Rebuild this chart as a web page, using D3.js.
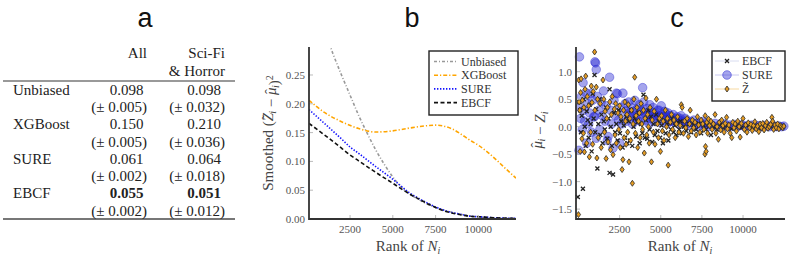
<!DOCTYPE html>
<html>
<head>
<meta charset="utf-8">
<script src="https://cdn.jsdelivr.net/npm/d3@7"></script>
<style>
  body { margin: 0; background: #fff; }
</style>
</head>
<body>
<div class="canvas"></div>
<script>
// table (panel a)
const methods = ["Unbiased", "XGBoost", "SURE", "EBCF"];
const allMean = ["0.098", "0.150", "0.061", "0.055"];
const allSe = ["0.005", "0.005", "0.002", "0.002"];
const sciMean = ["0.098", "0.210", "0.064", "0.051"];
const sciSe = ["0.032", "0.036", "0.018", "0.012"];

// smoothed error curves (panel b): [rank, value]
const unbiasedCurve = [[100, 0.41], [500, 0.37], [1000, 0.328], [1500, 0.287], [2000, 0.25], [2500, 0.215], [3000, 0.18], [3500, 0.149], [4000, 0.12], [4500, 0.095], [5000, 0.073], [5500, 0.055], [6000, 0.043], [6500, 0.034], [7000, 0.026], [7500, 0.02], [8000, 0.015], [8500, 0.011], [9000, 0.008], [9500, 0.005], [10000, 0.0035], [11000, 0.0015], [12200, 0.0005]];
const xgboostCurve = [[100, 0.206], [1000, 0.185], [2000, 0.169], [3000, 0.157], [4000, 0.151], [5000, 0.153], [6000, 0.158], [7000, 0.162], [7500, 0.163], [8000, 0.161], [8500, 0.156], [9000, 0.147], [9500, 0.137], [10000, 0.128], [10500, 0.117], [11000, 0.104], [11500, 0.09], [12200, 0.071]];
const sureCurve = [[100, 0.19], [1000, 0.166], [2000, 0.139], [2500, 0.125], [3000, 0.114], [4000, 0.091], [5000, 0.069], [6000, 0.045], [6500, 0.036], [7000, 0.028], [7500, 0.021], [8000, 0.015], [8500, 0.011], [9000, 0.008], [9500, 0.005], [10000, 0.004], [11000, 0.002], [12200, 0.001]];
const ebcfCurve = [[100, 0.166], [1000, 0.146], [2000, 0.123], [2500, 0.111], [3000, 0.101], [4000, 0.081], [5000, 0.062], [6000, 0.043], [6500, 0.035], [7000, 0.027], [7500, 0.02], [8000, 0.014], [8500, 0.01], [9000, 0.007], [9500, 0.005], [10000, 0.004], [11000, 0.002], [12200, 0.001]];
const bYTicks = [0, 0.05, 0.1, 0.15, 0.2, 0.25];
const rankTicks = [2500, 5000, 7500, 10000];

// residual scatter (panel c): [rank, value]
const ebcfPoints = [[-40, -1.28], [60, 0.45], [100, 0.3], [150, -0.1], [200, 0.2], [270, -1.13], [320, 0.5], [380, 0.0], [440, -0.35], [500, 0.28], [560, 0.12], [620, -0.2], [680, 0.4], [740, 0.05], [800, -0.45], [860, 0.6], [920, 0.15], [976, 0.94], [1020, -0.1], [1080, 0.32], [1150, -0.76], [1210, 0.05], [1280, 0.5], [1330, -0.15], [1400, 0.22], [1470, -0.3], [1540, 0.1], [1600, -0.05], [1680, 0.35], [1750, -0.22], [1820, 0.15], [1890, 0.68], [1890, -0.84], [1960, 0.0], [2030, -0.35], [2100, -0.87], [2160, 0.25], [2230, -0.1], [2300, 0.05], [2380, -0.25], [2450, 0.3], [2520, -0.12], [2600, 0.1], [2680, -0.38], [2750, 0.02], [2820, -0.2], [2900, 0.18], [2970, -0.3], [3050, 0.1], [3120, -0.25], [3200, 0.3], [3270, -0.35], [3350, 0.0], [3420, 0.15], [3500, -0.18], [3580, 0.08], [3650, 0.25], [3720, -0.3], [3800, 0.05], [3880, -0.12], [3950, 0.58], [4030, -0.2], [4100, 0.12], [4180, -0.22], [4250, 0.3], [4320, -0.05], [4400, 0.18], [4480, -0.28], [4560, 0.05], [4640, -0.15], [4720, 0.22], [4800, -0.08], [4880, 0.1], [4960, -0.2], [5050, 0.02], [5130, -0.3], [5210, 0.12], [5300, -0.12], [5380, 0.05], [5460, -0.25], [5540, 0.08], [5620, -0.05], [5700, 0.15], [5780, -0.1], [5860, 0.02], [5950, -0.15], [6030, 0.08], [6120, -0.05], [6200, 0.1], [6300, -0.12], [6400, 0.0], [6550, -0.08], [6700, 0.05], [6850, -0.1], [7000, 0.03], [7150, -0.05], [7300, 0.06], [7450, -0.12], [7600, 0.02], [7750, -0.05], [7900, 0.04], [8050, -0.15], [8200, 0.0], [8400, -0.05], [8600, 0.03], [8800, -0.02], [9000, 0.02], [9300, -0.04], [9600, 0.01], [9900, -0.02], [10200, 0.02], [10500, -0.01], [10800, 0.01], [11100, -0.02], [11400, 0.01], [11700, 0.0], [12000, -0.01], [12300, 0.0]];
const surePoints = [[30, -0.43], [61, 1.27], [90, 0.35], [130, 0.15], [180, 0.55], [230, -0.05], [280, 0.8], [330, 0.3], [380, 0.1], [450, 0.62], [500, -0.3], [560, 0.42], [620, 0.05], [680, 0.25], [740, 0.6], [800, -0.1], [860, 0.48], [920, 0.18], [976, 0.18], [1000, 1.18], [1037, 1.16], [1080, 1.04], [1080, -0.21], [1150, 0.55], [1220, 0.3], [1300, -0.05], [1380, 0.45], [1450, 0.2], [1520, 0.65], [1600, 0.1], [1680, 0.38], [1750, -0.25], [1800, -0.18], [1890, 0.9], [1950, 0.3], [2020, 0.05], [2100, -0.39], [2160, 0.48], [2230, 0.2], [2300, 0.61], [2370, 0.6], [2440, 0.12], [2500, -0.3], [2560, 0.35], [2620, 0.05], [2700, 0.61], [2760, 0.25], [2840, 0.42], [2920, 0.1], [2980, 0.3], [3050, 0.45], [3100, 0.25], [3120, 0.2], [3200, 0.35], [3280, 0.05], [3300, 0.18], [3350, 0.28], [3420, 0.48], [3480, 0.15], [3550, 0.32], [3600, 0.12], [3620, 0.22], [3700, 0.4], [3750, 0.28], [3770, 0.1], [3840, 0.3], [3900, 0.71], [3960, 0.45], [4020, 0.25], [4080, 0.12], [4100, 0.22], [4150, 0.33], [4220, 0.2], [4280, 0.05], [4300, 0.15], [4340, 0.4], [4400, 0.28], [4470, 0.18], [4500, 0.25], [4540, 0.35], [4600, 0.1], [4680, 0.25], [4700, 0.2], [4750, 0.15], [4820, 0.3], [4890, 0.2], [4900, 0.3], [4960, 0.08], [5030, 0.38], [5100, 0.22], [5150, 0.18], [5170, 0.12], [5240, 0.28], [5310, 0.18], [5350, 0.22], [5380, 0.05], [5450, 0.25], [5520, 0.15], [5550, 0.1], [5600, 0.2], [5680, 0.1], [5750, 0.15], [5760, 0.22], [5840, 0.08], [5920, 0.15], [5950, 0.1], [6000, 0.18], [6080, 0.05], [6160, 0.12], [6200, 0.15], [6240, 0.2], [6320, 0.08], [6400, 0.1], [6450, 0.05], [6500, 0.15], [6600, 0.05], [6700, 0.1], [6800, 0.02], [6900, 0.08], [7000, 0.12], [7100, 0.03], [7200, 0.06], [7300, 0.0], [7400, 0.08], [7500, 0.04], [7600, 0.1], [7700, 0.02], [7800, 0.06], [7900, 0.0], [8000, 0.05], [8150, 0.02], [8300, 0.06], [8450, 0.0], [8600, 0.04], [8750, 0.02], [8900, 0.05], [9050, 0.0], [9200, 0.03], [9350, 0.01], [9500, 0.04], [9650, 0.0], [9800, 0.02], [9950, 0.03], [10100, 0.0], [10250, 0.02], [10400, 0.01], [10550, 0.03], [10700, 0.0], [10850, 0.02], [11000, 0.01], [11150, 0.0], [11300, 0.02], [11450, 0.01], [11600, 0.0], [11750, 0.02], [11900, 0.01], [12050, 0.0], [12200, 0.01], [12350, 0.0], [12480, 0.01]];
const zPoints = [[0, -1.6], [20, 0.85], [40, 0.45], [80, 0.3], [100, -0.45], [130, 0.62], [160, 0.87], [210, -0.22], [240, 0.48], [300, -0.12], [330, 0.35], [360, -0.46], [400, 0.68], [440, 0.92], [500, -0.3], [540, 0.55], [620, 0.38], [660, -0.55], [740, -0.1], [780, 0.74], [820, 0.44], [860, -0.32], [900, 0.64], [980, 1.36], [1000, 0.3], [1080, 0.72], [1120, -0.57], [1160, 0.5], [1200, -0.2], [1320, 0.42], [1380, -0.38], [1490, 0.85], [1540, 0.5], [1580, -0.1], [1620, 0.28], [1680, -0.58], [1720, 0.15], [1760, 0.35], [1800, -0.28], [1900, 0.45], [1950, -0.42], [2000, 0.22], [2050, 0.55], [2100, -0.51], [2180, 0.32], [2220, -0.15], [2260, 0.42], [2300, -0.3], [2400, 0.25], [2450, -0.05], [2500, 0.38], [2540, -0.38], [2580, 0.18], [2650, -0.78], [2700, -0.6], [2740, 0.3], [2780, -0.2], [2820, 0.45], [2860, 0.1], [2900, -0.32], [2950, 0.22], [2990, -0.1], [3030, 0.4], [3070, -0.64], [3120, 0.15], [3170, -0.25], [3220, 0.3], [3276, -1.03], [3320, 0.05], [3370, 0.5], [3416, 0.9], [3460, -0.12], [3500, 0.2], [3550, 0.35], [3600, -0.38], [3650, 0.1], [3700, 0.25], [3750, -0.2], [3800, 0.42], [3850, 0.05], [3900, -0.05], [3950, 0.3], [4000, -0.48], [4050, 0.15], [4100, 0.52], [4150, -0.15], [4200, 0.22], [4250, 0.0], [4300, -0.3], [4350, 0.35], [4435, -0.64], [4480, 0.12], [4550, -0.1], [4600, 0.28], [4650, -0.32], [4740, 0.5], [4800, 0.05], [4860, -0.2], [4920, 0.15], [4980, -0.45], [5050, 0.2], [5100, -0.08], [5150, 0.1], [5200, -0.25], [5280, 0.3], [5350, 0.0], [5400, 0.15], [5453, -0.7], [5500, -0.15], [5580, 0.08], [5650, 0.22], [5720, -0.05], [5800, 0.12], [5880, -0.2], [5950, 0.05], [6020, 0.18], [6100, -0.1], [6180, 0.02], [6250, 0.4], [6300, 0.35], [6380, -0.12], [6450, 0.1], [6520, -0.02], [6600, 0.15], [6680, -0.18], [6750, 0.05], [6790, 0.3], [6850, -0.08], [6920, 0.12], [7000, -0.02], [7080, 0.08], [7150, -0.15], [7230, 0.18], [7300, 0.03], [7380, -0.1], [7450, 0.12], [7550, 0.05], [7620, -0.05], [7686, -0.5], [7700, 0.2], [7720, -0.36], [7760, -0.45], [7800, 0.08], [7850, -0.12], [7900, 0.14], [7960, 0.02], [8050, 0.1], [8120, -0.05], [8200, 0.05], [8300, 0.22], [8350, -0.12], [8420, 0.0], [8503, -0.23], [8560, 0.08], [8640, -0.06], [8700, 0.12], [8780, 0.02], [8850, -0.1], [8920, 0.06], [9000, 0.17], [9060, -0.04], [9140, 0.03], [9220, -0.12], [9316, -0.2], [9380, 0.08], [9450, -0.02], [9520, 0.05], [9600, -0.08], [9680, 0.1], [9760, 0.0], [9825, -0.19], [9900, 0.06], [10000, 0.15], [10080, -0.05], [10160, 0.03], [10240, -0.1], [10320, 0.07], [10400, -0.02], [10480, 0.04], [10560, -0.07], [10640, 0.02], [10720, 0.09], [10800, -0.04], [10880, 0.01], [10960, -0.09], [11040, 0.05], [11120, -0.02], [11200, 0.06], [11280, -0.06], [11360, 0.02], [11440, 0.08], [11520, -0.03], [11600, 0.0], [11680, 0.04], [11755, 0.17], [11800, 0.1], [11860, -0.05], [11940, 0.03], [12020, -0.02], [12100, 0.05], [12180, -0.04], [12260, 0.02], [12340, 0.0], [12420, -0.02], [12480, 0.01]];
const cYTicks = [-1.5, -1.0, -0.5, 0.0, 0.5, 1.0];

const w = 789;
const h = 259;
const serif = "'Liberation Serif', 'DejaVu Serif', serif";
const svg = d3.select(".canvas").append("svg").attr("width", w).attr("height", h)
  .attr("font-family", serif);

// panel letters
[["a", 145], ["b", 412], ["c", 677]].forEach(([t, x]) => {
  svg.append("text").attr("x", x).attr("y", 27).attr("text-anchor", "middle")
    .attr("font-family", "'Liberation Sans', Arial, sans-serif").attr("font-size", 27).attr("fill", "#111").text(t);
});

// ---------- panel a: table ----------
const tbl = svg.append("g").attr("font-size", 15).attr("fill", "#222");
tbl.append("text").attr("x", 147).attr("y", 58).attr("text-anchor", "end").text("All");
tbl.append("text").attr("x", 225).attr("y", 58).attr("text-anchor", "end").text("Sci-Fi");
tbl.append("text").attr("x", 225).attr("y", 76).attr("text-anchor", "end").text("& Horror");
tbl.append("line").attr("x1", 3).attr("x2", 235).attr("y1", 81).attr("y2", 81).attr("stroke", "#777").attr("stroke-width", 1.5);
tbl.append("line").attr("x1", 3).attr("x2", 235).attr("y1", 219).attr("y2", 219).attr("stroke", "#777").attr("stroke-width", 2);

const rowY = d3.scaleLinear().domain([0, 3]).range([94.5, 198]);
methods.forEach((m, i) => {
  const bold = m === "EBCF" ? "bold" : "normal";
  tbl.append("text").attr("x", 13).attr("y", rowY(i)).text(m);
  tbl.append("text").attr("x", 143.5).attr("y", rowY(i)).attr("text-anchor", "end").attr("font-weight", bold).text(allMean[i]);
  tbl.append("text").attr("x", 221).attr("y", rowY(i)).attr("text-anchor", "end").attr("font-weight", bold).text(sciMean[i]);
  tbl.append("text").attr("x", 147).attr("y", rowY(i) + 17.5).attr("text-anchor", "end").text(`(\u00b1 ${allSe[i]})`);
  tbl.append("text").attr("x", 225).attr("y", rowY(i) + 17.5).attr("text-anchor", "end").text(`(\u00b1 ${sciSe[i]})`);
});

// helper to draw axes the same way in b and c
function drawAxes(g, x, y, xTicks, yTicks, yFmt) {
  const [x0, x1] = x.range();
  const [y0, y1] = y.range();
  // ticks point inward, light grey
  g.selectAll(".xt").data(xTicks).enter().append("line")
    .attr("x1", (d) => x(d)).attr("x2", (d) => x(d)).attr("y1", y0).attr("y2", y0 - 4)
    .attr("stroke", "#bbb").attr("stroke-width", 1);
  g.selectAll(".yt").data(yTicks).enter().append("line")
    .attr("x1", x0).attr("x2", x0 + 4).attr("y1", (d) => y(d)).attr("y2", (d) => y(d))
    .attr("stroke", "#bbb").attr("stroke-width", 1);
  g.selectAll(".xl").data(xTicks).enter().append("text")
    .attr("x", (d) => x(d)).attr("y", y0 + 14).attr("text-anchor", "middle")
    .attr("font-size", 11).attr("fill", "#555").text((d) => d);
  g.selectAll(".yl").data(yTicks).enter().append("text")
    .attr("x", x0 - 4).attr("y", (d) => y(d) + 4).attr("text-anchor", "end")
    .attr("font-size", 11).attr("fill", "#555").text(yFmt);
  // spines
  g.append("path").attr("d", `M${x0},${y1}V${y0}H${x1}`).attr("fill", "none").attr("stroke", "#333").attr("stroke-width", 1.8);
}

function rankLabel(g, cx) {
  const t = g.append("text").attr("x", cx).attr("y", 251).attr("text-anchor", "middle").attr("font-size", 15).attr("fill", "#444");
  t.append("tspan").text("Rank of ");
  t.append("tspan").attr("font-style", "italic").text("N");
  t.append("tspan").attr("font-style", "italic").attr("font-size", 10).attr("dy", 3).text("i");
}

// math symbol with an accent laid over it, then a subscript i
function accented(t, base, accent, back, after) {
  t.append("tspan").attr("font-style", "italic").text(base);
  t.append("tspan").attr("dx", -back).attr("dy", -1).text(accent);
  t.append("tspan").attr("font-style", "italic").attr("font-size", 10).attr("dx", after).attr("dy", 4).text("i");
  t.append("tspan").attr("dy", -3).text("");
}

// ---------- panel b: smoothed squared error ----------
const bx = d3.scaleLinear().domain([100, 12200]).range([309, 516]);
const by = d3.scaleLinear().domain([0, 0.2986]).range([219, 47]);
const gb = svg.append("g");
gb.append("clipPath").attr("id", "clipb").append("rect").attr("x", 309).attr("y", 47).attr("width", 207).attr("height", 172);

const line = d3.line().x((d) => bx(d[0])).y((d) => by(d[1])).curve(d3.curveMonotoneX);
const curves = [
  { name: "Unbiased", data: unbiasedCurve, color: "#999", dash: "3,2,1,2" },
  { name: "XGBoost", data: xgboostCurve, color: "#ffa500", dash: "4,2,1.2,2" },
  { name: "SURE", data: sureCurve, color: "#1414ff", dash: "1.4,1.6" },
  { name: "EBCF", data: ebcfCurve, color: "#111", dash: "4,2.5" },
];
gb.append("g").attr("clip-path", "url(#clipb)")
  .selectAll("path").data(curves).enter().append("path")
  .attr("d", (d) => line(d.data)).attr("fill", "none")
  .attr("stroke", (d) => d.color).attr("stroke-width", 1.6).attr("stroke-dasharray", (d) => d.dash);

drawAxes(gb, bx, by, rankTicks, bYTicks, (d) => d.toFixed(2));
rankLabel(gb, 408);

const byl = gb.append("text").attr("transform", "translate(273,133) rotate(-90)").attr("text-anchor", "middle").attr("font-size", 15).attr("fill", "#444");
byl.append("tspan").text("Smoothed (");
accented(byl, "Z", "\u02dc", 7, 1);
byl.append("tspan").text(" \u2212 ");
accented(byl, "\u03bc", "\u02c6", 6.5, 1);
byl.append("tspan").text(")");
byl.append("tspan").attr("font-size", 10).attr("dy", -6).text("2");

// legend b
const lb = gb.append("g");
lb.append("rect").attr("x", 429).attr("y", 51).attr("width", 89).attr("height", 64).attr("fill", "#fff").attr("stroke", "#222").attr("stroke-width", 1.4);
curves.forEach((c, i) => {
  const yy = 61.5 + i * 13.7;
  lb.append("line").attr("x1", 434).attr("x2", 457).attr("y1", yy).attr("y2", yy)
    .attr("stroke", c.color).attr("stroke-width", 1.6).attr("stroke-dasharray", c.dash);
  lb.append("text").attr("x", 461).attr("y", yy + 4).attr("font-size", 12).attr("fill", "#333").text(c.name);
});

// ---------- panel c: residual scatter ----------
const cx = d3.scaleLinear().domain([-150, 12550]).range([576, 785]);
const cy = d3.scaleLinear().domain([-1.68, 1.45]).range([219, 47]);
const gc = svg.append("g");

const xMark = (g) => g.append("path").attr("d", "M-2,-2L2,2M-2,2L2,-2").attr("stroke", "#222").attr("stroke-width", 1.3);
const diamond = "M0,-3L2.1,0L0,3L-2.1,0Z";
const sureFill = "rgba(40,40,210,0.42)";
const sureStroke = "rgba(40,40,210,0.5)";
const zFill = "#e39a22";

gc.selectAll(".sure").data(surePoints).enter().append("circle")
  .attr("cx", (d) => cx(d[0])).attr("cy", (d) => cy(d[1])).attr("r", 4.3)
  .attr("fill", sureFill).attr("stroke", sureStroke).attr("stroke-width", 0.8);
gc.selectAll(".ebcf").data(ebcfPoints).enter().append("g")
  .attr("transform", (d) => `translate(${cx(d[0])},${cy(d[1])})`).call(xMark);
gc.selectAll(".z").data(zPoints).enter().append("path")
  .attr("transform", (d) => `translate(${cx(d[0])},${cy(d[1])})`).attr("d", diamond)
  .attr("fill", zFill).attr("stroke", "#2a2a2a").attr("stroke-width", 0.8);

drawAxes(gc, cx, cy, rankTicks, cYTicks, (d) => d3.format(".1f")(d).replace("-", "\u2212"));
rankLabel(gc, 680);

const cyl = gc.append("text").attr("transform", "translate(542,130) rotate(-90)").attr("text-anchor", "middle").attr("font-size", 15).attr("fill", "#444");
accented(cyl, "\u03bc", "\u02c6", 6.5, 1);
cyl.append("tspan").text(" \u2212 ");
cyl.append("tspan").attr("font-style", "italic").text("Z");
cyl.append("tspan").attr("font-style", "italic").attr("font-size", 10).attr("dy", 3).text("i");

// legend c
const lc = gc.append("g");
lc.append("rect").attr("x", 712).attr("y", 51).attr("width", 73).attr("height", 50).attr("fill", "#fff").attr("stroke", "#222").attr("stroke-width", 1.4);
const cLegend = [
  { name: "EBCF", line: "#d8dcf0" },
  { name: "SURE", line: "#c8c8f0" },
  { name: "Z\u0303", line: "#f7d9a0" },
];
cLegend.forEach((c, i) => {
  const yy = 61 + i * 14;
  lc.append("line").attr("x1", 715).attr("x2", 739).attr("y1", yy).attr("y2", yy).attr("stroke", c.line).attr("stroke-width", 1);
  const mk = lc.append("g").attr("transform", `translate(727,${yy})`);
  if (i === 0) xMark(mk);
  if (i === 1) mk.append("circle").attr("r", 4.3).attr("fill", sureFill).attr("stroke", sureStroke);
  if (i === 2) mk.append("path").attr("d", diamond).attr("fill", zFill).attr("stroke", "#2a2a2a").attr("stroke-width", 0.8);
  lc.append("text").attr("x", 742).attr("y", yy + 4).attr("font-size", 12).attr("fill", "#333").text(c.name);
});
</script>
</body>
</html>
